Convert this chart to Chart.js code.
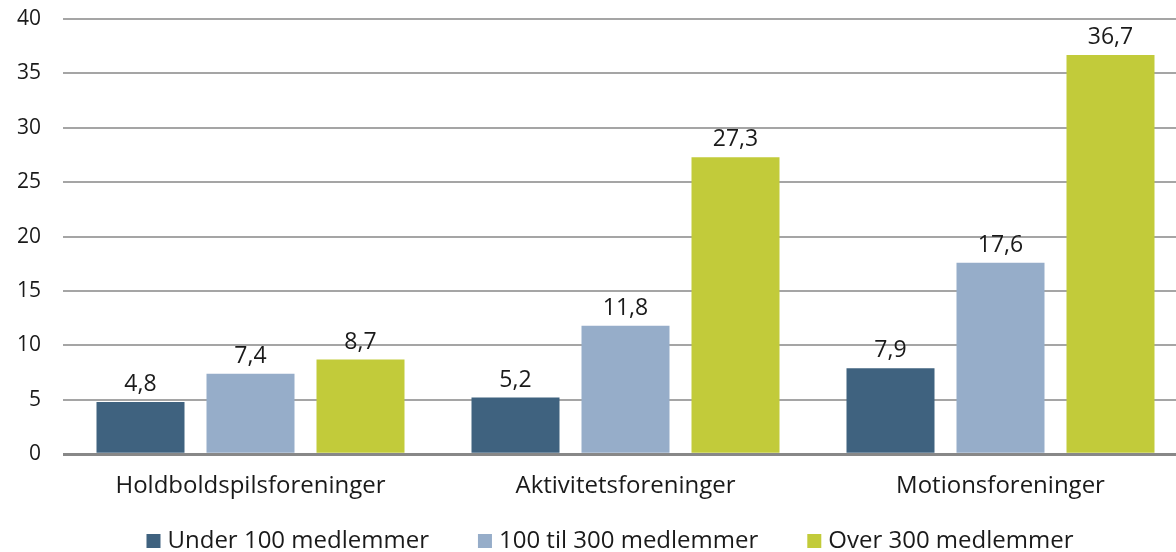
<!DOCTYPE html>
<html>
<head>
<meta charset="utf-8">
<script src="https://cdn.jsdelivr.net/npm/chart.js@4.4.0/dist/chart.umd.min.js"></script>
<style>
    html, body { margin: 0; padding: 0; background: #fff; overflow: hidden; }
    #wrap { width: 1188px; height: 552px; position: relative; }
</style>
</head>
<body>
<div id="wrap"><canvas id="chart"></canvas></div>
<script>
// Data
const categories = ['Holdboldspilsforeninger', 'Aktivitetsforeninger', 'Motionsforeninger'];
const seriesNames = ['Under 100 medlemmer', '100 til 300 medlemmer', 'Over 300 medlemmer'];
const under100 = [4.8, 5.2, 7.9];
const mid100to300 = [7.4, 11.8, 17.6];
const over300 = [8.7, 27.3, 36.7];
const yTicks = [0, 5, 10, 15, 20, 25, 30, 35, 40];

const colors = ['#3f627f', '#96adc9', '#c2cb3a'];
const FONT = "'Open Sans', Lato, sans-serif";
const TEXT = '#1a1a1a';

// draws the value above each bar, with comma decimals
const valueLabels = {
    id: 'valueLabels',
    afterDatasetsDraw(chart) {
        const ctx = chart.ctx;
        ctx.save();
        ctx.font = `23px ${FONT}`;
        ctx.fillStyle = TEXT;
        ctx.textAlign = 'center';
        ctx.textBaseline = 'alphabetic';
        chart.data.datasets.forEach((ds, i) => {
            chart.getDatasetMeta(i).data.forEach((bar, j) => {
                const txt = ds.data[j].toFixed(1).replace('.', ',');
                ctx.fillText(txt, bar.x, bar.y - 11);
            });
        });
        ctx.restore();
    }
};

// legend drawn by hand so the spacing can follow the original
const bottomLegend = {
    id: 'bottomLegend',
    afterDraw(chart) {
        const ctx = chart.ctx;
        const gap = 49, box = 14, boxGap = 7;
        ctx.save();
        ctx.font = `24px ${FONT}`;
        const items = chart.data.datasets.map(ds => ({
            text: ds.label, color: ds.backgroundColor, w: ctx.measureText(ds.label).width
        }));
        const total = items.reduce((s, it) => s + box + boxGap + it.w, 0) + gap * (items.length - 1);
        let x = 610 - total / 2;
        const base = 548;
        ctx.textBaseline = 'alphabetic';
        ctx.textAlign = 'left';
        items.forEach(it => {
            ctx.fillStyle = it.color;
            ctx.fillRect(x, base - box, box, box);
            ctx.fillStyle = TEXT;
            ctx.fillText(it.text, x + box + boxGap, base);
            x += box + boxGap + it.w + gap;
        });
        ctx.restore();
    }
};

new Chart(document.getElementById('chart'), {
    type: 'bar',
    data: {
        labels: categories,
        datasets: [
            { label: seriesNames[0], data: under100, backgroundColor: colors[0] },
            { label: seriesNames[1], data: mid100to300, backgroundColor: colors[1] },
            { label: seriesNames[2], data: over300, backgroundColor: colors[2] }
        ]
    },
    options: {
        responsive: true,
        maintainAspectRatio: false,
        animation: false,
        layout: { padding: { top: 19, right: 0, left: 0, bottom: 33 } },
        datasets: {
            bar: { categoryPercentage: 0.88, barPercentage: 0.8 }
        },
        plugins: {
            legend: { display: false },
            tooltip: { enabled: false }
        },
        scales: {
            x: {
                grid: { display: false, drawTicks: false },
                border: { display: false },
                ticks: {
                    color: TEXT,
                    padding: 18,
                    autoSkip: false,
                    maxRotation: 0,
                    font: { family: FONT, size: 24 }
                }
            },
            y: {
                min: 0,
                max: 40,
                afterBuildTicks(scale) { scale.ticks = yTicks.map(v => ({ value: v })); },
                afterFit(scale) {
                    scale.width = 63;
                    scale.paddingTop = 0;
                    scale.paddingBottom = 0;
                },
                border: { display: false },
                grid: {
                    drawTicks: false,
                    color: ctx => ctx.tick.value === 0 ? '#888888' : '#a5a5a5',
                    lineWidth: ctx => ctx.tick.value === 0 ? 3 : 2
                },
                ticks: {
                    color: TEXT,
                    padding: 22,
                    font: { family: FONT, size: 21 }
                }
            }
        }
    },
    plugins: [valueLabels, bottomLegend]
});
</script>
</body>
</html>
